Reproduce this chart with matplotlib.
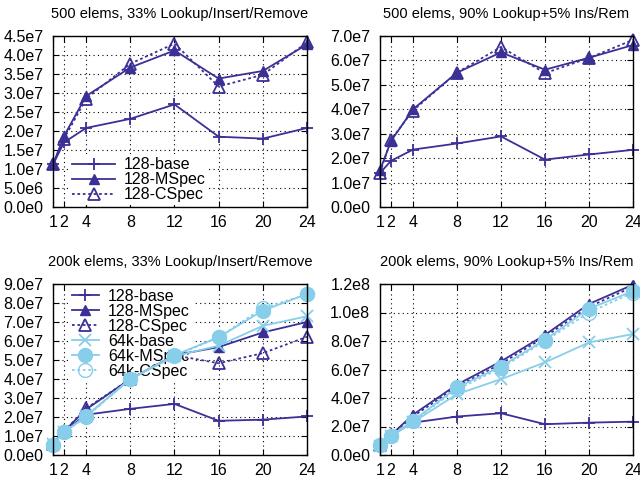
import matplotlib
matplotlib.use("Agg")
import matplotlib.pyplot as plt

plt.rcParams['font.family'] = ['Liberation Sans', 'DejaVu Sans']
plt.rcParams['font.size'] = 10

DARK = '#3b3096'
LIGHT = '#87ceeb'

threads = [1, 2, 4, 8, 12, 16, 20, 24]

# 500 elems, 33% lookup/insert/remove
s33_base = [1.12e7, 1.70e7, 2.08e7, 2.32e7, 2.70e7, 1.85e7, 1.80e7, 2.08e7]
s33_mspec = [1.12e7, 1.87e7, 2.92e7, 3.67e7, 4.12e7, 3.38e7, 3.58e7, 4.28e7]
s33_cspec = [1.12e7, 1.80e7, 2.85e7, 3.77e7, 4.30e7, 3.17e7, 3.48e7, 4.33e7]

# 500 elems, 90% lookup
s90_base = [1.39e7, 1.89e7, 2.35e7, 2.60e7, 2.89e7, 1.94e7, 2.15e7, 2.34e7]
s90_mspec = [1.50e7, 2.70e7, 4.00e7, 5.50e7, 6.33e7, 5.62e7, 6.11e7, 6.63e7]
s90_cspec = [1.40e7, 2.75e7, 3.95e7, 5.50e7, 6.55e7, 5.48e7, 6.10e7, 6.84e7]

# 200k elems, 33%
l33_base = [0.60e7, 1.25e7, 2.12e7, 2.43e7, 2.69e7, 1.80e7, 1.86e7, 2.03e7]
l33_mspec = [0.60e7, 1.25e7, 2.40e7, 4.00e7, 5.25e7, 5.68e7, 6.45e7, 7.00e7]
l33_cspec = [0.60e7, 1.25e7, 2.45e7, 4.00e7, 5.25e7, 4.83e7, 5.36e7, 6.22e7]
l33_64base = [0.60e7, 1.20e7, 2.05e7, 4.00e7, 5.20e7, 5.75e7, 6.80e7, 7.30e7]
l33_64mspec = [0.55e7, 1.20e7, 2.05e7, 4.00e7, 5.25e7, 6.20e7, 7.60e7, 8.47e7]
l33_64cspec = [0.55e7, 1.20e7, 2.00e7, 4.00e7, 5.20e7, 6.20e7, 7.73e7, 8.45e7]

# 200k elems, 90%
l90_base = [0.70e7, 1.40e7, 2.27e7, 2.70e7, 2.93e7, 2.16e7, 2.27e7, 2.34e7]
l90_mspec = [0.70e7, 1.40e7, 2.83e7, 4.94e7, 6.57e7, 8.43e7, 1.06e8, 1.195e8]
l90_cspec = [0.70e7, 1.40e7, 2.70e7, 4.80e7, 6.40e7, 8.30e7, 1.04e8, 1.18e8]
l90_64base = [0.60e7, 1.30e7, 2.30e7, 4.27e7, 5.32e7, 6.50e7, 7.90e7, 8.49e7]
l90_64mspec = [0.70e7, 1.35e7, 2.40e7, 4.74e7, 6.21e7, 8.08e7, 1.027e8, 1.15e8]
l90_64cspec = [0.70e7, 1.35e7, 2.40e7, 4.60e7, 6.10e7, 8.00e7, 1.00e8, 1.14e8]


def fmt(v):
    m, e = ("%.1e" % v).split("e")
    return "%se%d" % (m, int(e))


def style(ax, ymax, ystep, title):
    ax.set_xlim(1, 24)
    ax.set_ylim(0, ymax)
    ax.set_xticks(threads)
    yt = [i * ystep for i in range(int(round(ymax / ystep)) + 1)]
    ax.set_yticks(yt)
    ax.set_yticklabels([fmt(v) for v in yt])
    ax.tick_params(direction='in', top=True, right=True, length=4, labelsize=11.5)
    ax.tick_params(axis='y', pad=7)
    ax.tick_params(axis='x', pad=6)
    ax.grid(True, color='black', linestyle=(0, (1, 3)), linewidth=0.8)
    for s in ax.spines.values():
        s.set_linewidth(1.0)
        s.set_zorder(3)
    ax.set_title(title, fontsize=10.5, pad=13)


def plot128(ax, base, mspec, cspec):
    ax.plot(threads, base, color=DARK, lw=1.3, marker='+', ms=9, mew=1.3, clip_on=False, label='128-base')
    ax.plot(threads, mspec, color=DARK, lw=1.3, marker='^', ms=7.5, clip_on=False, label='128-MSpec')
    ax.plot(threads, cspec, color=DARK, lw=1.3, ls=(0, (1.5, 1.5)), marker='^', ms=8.5, mfc='none',
            mew=1.3, clip_on=False, label='128-CSpec')


def plot64(ax, base, mspec, cspec):
    ax.plot(threads, base, color=LIGHT, lw=1.3, marker='x', ms=8, mew=1.3, clip_on=False, label='64k-base')
    ax.plot(threads, mspec, color=LIGHT, lw=1.3, marker='o', ms=10, clip_on=False, label='64k-MSpec')
    ax.plot(threads, cspec, color=LIGHT, lw=1.3, ls=(0, (1.5, 1.5)), marker='o', ms=10, mfc='none',
            mew=1.0, clip_on=False, label='64k-CSpec')


def opaque_legend(ax, **kw):
    leg = ax.legend(frameon=True, fancybox=False, edgecolor='none', facecolor='white', framealpha=1,
                    labelspacing=0.0, fontsize=11.5, borderaxespad=0, borderpad=0.2, **kw)
    leg.set_zorder(1.8)
    return leg


fig = plt.figure(figsize=(6.4, 4.83), dpi=100)
W, H = 640.0, 483.0
ax1 = fig.add_axes([53 / W, 1 - 207 / H, 254 / W, 171 / H])
ax2 = fig.add_axes([380 / W, 1 - 207 / H, 253 / W, 171 / H])
ax3 = fig.add_axes([53 / W, 1 - 455 / H, 254 / W, 171 / H])
ax4 = fig.add_axes([380 / W, 1 - 455 / H, 253 / W, 171 / H])

plot128(ax1, s33_base, s33_mspec, s33_cspec)
style(ax1, 4.5e7, 5e6, "500 elems, 33% Lookup/Insert/Remove")
opaque_legend(ax1, loc='lower left', bbox_to_anchor=(0.063, 0.01), handlelength=2.7, handletextpad=0.5)

plot128(ax2, s90_base, s90_mspec, s90_cspec)
style(ax2, 7.0e7, 1e7, "500 elems, 90% Lookup+5% Ins/Rem")

plot128(ax3, l33_base, l33_mspec, l33_cspec)
plot64(ax3, l33_64base, l33_64mspec, l33_64cspec)
style(ax3, 9.0e7, 1e7, "200k elems, 33% Lookup/Insert/Remove")
opaque_legend(ax3, loc='upper left', bbox_to_anchor=(0.063, 0.992), handlelength=1.65, handletextpad=0.6)

plot128(ax4, l90_base, l90_mspec, l90_cspec)
plot64(ax4, l90_64base, l90_64mspec, l90_64cspec)
style(ax4, 1.2e8, 2e7, "200k elems, 90% Lookup+5% Ins/Rem")

fig.savefig("out.png", dpi=100)
